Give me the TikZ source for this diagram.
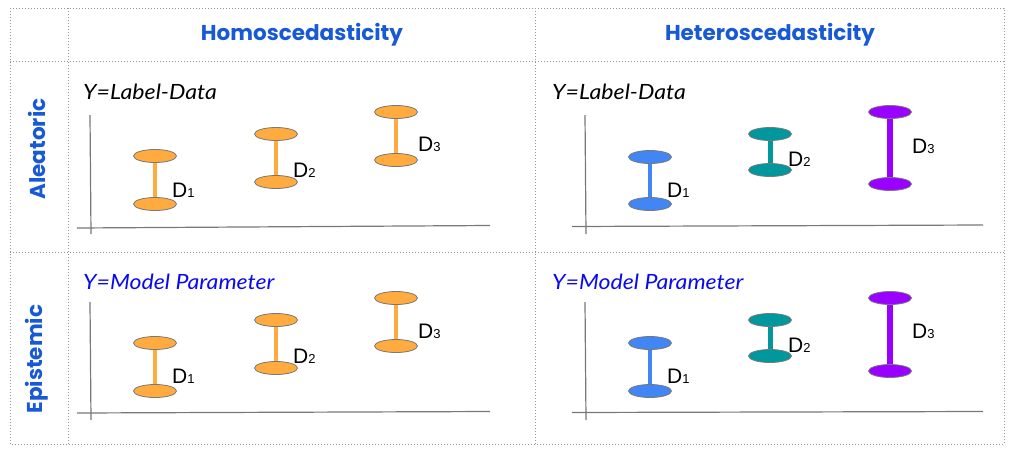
\documentclass[tikz,border=0pt]{standalone}
\usepackage{fontspec}
\setmainfont{Liberation Sans}
\newfontfamily\hdrfont{Poppins}
\newfontfamily\handfont{Lato}
\usetikzlibrary{shapes.geometric,backgrounds}
\pgfdeclarelayer{paper}
\pgfsetlayers{paper,background,main}
\definecolor{hdrblue}{RGB}{24,90,214}
\definecolor{orng}{RGB}{255,171,64}
\definecolor{bblue}{RGB}{66,133,244}
\definecolor{teal2}{RGB}{0,151,157}
\definecolor{purp}{RGB}{153,0,255}
\definecolor{gridg}{RGB}{150,150,150}
\definecolor{axisg}{RGB}{120,120,120}
\definecolor{modelblue}{RGB}{10,10,240}
\tikzset{
  gridline/.style={gridg, line width=0.9pt, dash pattern=on 0.9pt off 2.1pt},
  axisline/.style={axisg, line width=1.2pt},
  disk/.style={ellipse, draw=axisg, line width=0.8pt, minimum width=43pt, minimum height=13pt, inner sep=0pt},
  hdr/.style={font=\hdrfont\bfseries\fontsize{21.5}{24}\selectfont, text=hdrblue, inner sep=0pt},
  hand/.style={font=\handfont\itshape\fontsize{21}{24}\selectfont, anchor=base west, inner sep=0pt, xscale=1.1},
  dlab/.style={font=\fontsize{21}{24}\selectfont, anchor=base west, inner sep=0pt}
}
\newcommand{\dbell}[6]{%
  \node[disk, fill=#5] (#1t) at (#2,#3) {};
  \node[disk, fill=#5] (#1b) at (#2,#4) {};
  \begin{pgfonlayer}{background}
    \draw[#5, line width=#6] (#1t.center) -- (#1b.center);
  \end{pgfonlayer}
}
\newcommand{\dlabel}[4]{\node[dlab] (#1) at (#2,#3) {D{\fontsize{13}{14}\selectfont #4}};}
\begin{document}
\begin{tikzpicture}[x=1pt,y=-1pt]
\useasboundingbox (0,0) rectangle (1016,453);
\begin{pgfonlayer}{paper}
\fill[white] (0,0) rectangle (1016,453);
\end{pgfonlayer}
% grid
\draw[gridline] (10,8) rectangle (1004,444);
\draw[gridline] (68,8) -- (68,444);
\draw[gridline] (535,8) -- (535,444);
\draw[gridline] (10,61) -- (1004,61);
\draw[gridline] (10,252) -- (1004,252);
% headers
\node[hdr] (h1) at (302,35) {Homoscedasticity};
\node[hdr] (h2) at (770,35) {Heteroscedasticity};
\node[hdr, rotate=90] (r1) at (37,149) {Aleatoric};
\node[hdr, rotate=90] (r2) at (37,359) {Epistemic};
% ---- top-left panel
\node[hand] (tlt) at (83,99) {Y=Label-Data};
\draw[axisline] (90,115) -- (91,234);
\draw[axisline] (77,228) -- (490,225.5);
\dbell{tla}{155}{156}{204}{orng}{4pt}
\dbell{tlb}{276}{134}{182}{orng}{4pt}
\dbell{tlc}{396}{112}{160}{orng}{4pt}
\dlabel{tlla}{172}{197}{1}
\dlabel{tllb}{293}{177}{2}
\dlabel{tllc}{418}{151}{3}
% ---- top-right panel
\node[hand] (trt) at (552,99) {Y=Label-Data};
\draw[axisline] (585,115) -- (586,234);
\draw[axisline] (572,226.5) -- (983,225);
\dbell{tra}{650}{157}{204}{bblue}{4pt}
\dbell{trb}{770}{134}{170}{teal2}{5pt}
\dbell{trc}{890}{112}{184}{purp}{6pt}
\dlabel{trla}{667}{197}{1}
\dlabel{trlb}{788}{166}{2}
\dlabel{trlc}{912}{153}{3}
% ---- bottom-left panel
\node[hand, text=modelblue] (blt) at (83,289) {Y=Model Parameter};
\draw[axisline] (90,302) -- (91,420);
\draw[axisline] (77,413) -- (490,411.5);
\dbell{bla}{155}{343}{391}{orng}{4pt}
\dbell{blb}{276}{320}{368}{orng}{4pt}
\dbell{blc}{396}{298}{346}{orng}{4pt}
\dlabel{blla}{172}{383}{1}
\dlabel{bllb}{293}{363}{2}
\dlabel{bllc}{418}{338}{3}
% ---- bottom-right panel
\node[hand, text=modelblue] (brt) at (552,289) {Y=Model Parameter};
\draw[axisline] (585,302) -- (586,420);
\draw[axisline] (572,412.5) -- (983,411.5);
\dbell{bra}{650}{343}{391}{bblue}{4pt}
\dbell{brb}{770}{320}{356}{teal2}{5pt}
\dbell{brc}{890}{298}{371}{purp}{6pt}
\dlabel{brla}{667}{383}{1}
\dlabel{brlb}{788}{352}{2}
\dlabel{brlc}{912}{338}{3}
\end{tikzpicture}
\end{document}
